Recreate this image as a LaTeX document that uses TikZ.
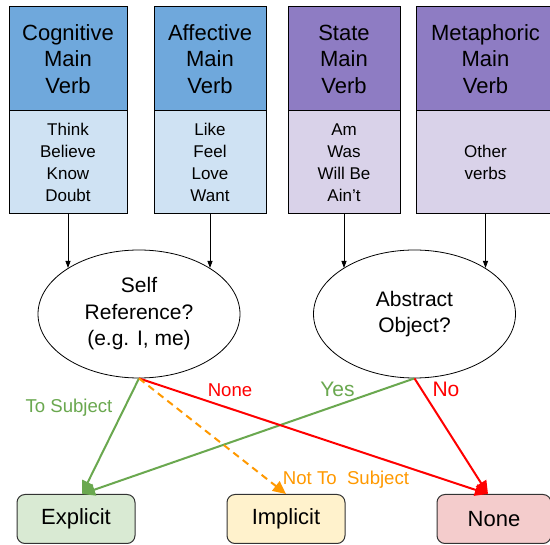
\documentclass[tikz,border=0pt]{standalone}
\usepackage{fontspec}
\setmainfont{Liberation Sans}
\usetikzlibrary{shapes.geometric,arrows.meta,calc}
\definecolor{blueD}{HTML}{6FA8DC}
\definecolor{blueL}{HTML}{CFE2F3}
\definecolor{purpD}{HTML}{8E7CC3}
\definecolor{purpL}{HTML}{D9D2E9}
\definecolor{grnF}{HTML}{D9EAD3}
\definecolor{yelF}{HTML}{FFF2CC}
\definecolor{redF}{HTML}{F4CCCC}
\definecolor{grnL}{HTML}{6AA84F}
\definecolor{orgL}{HTML}{FF9900}
\definecolor{redL}{HTML}{FF0000}
\begin{document}
\begin{tikzpicture}[x=1pt,y=-1pt,
  hdr/.style={draw=black,line width=1pt,rectangle,minimum height=104pt,inner sep=0pt,align=center,font=\fontsize{22}{26.5}\selectfont},
  bdy/.style={draw=black,line width=1pt,rectangle,minimum height=103pt,inner sep=0pt,align=center,font=\fontsize{17}{22}\selectfont},
  quest/.style={draw=black,line width=0.8pt,ellipse,minimum width=202pt,minimum height=128pt,inner sep=0pt,align=center,font=\fontsize{21}{26.5}\selectfont},
  outbox/.style={draw=black!80,line width=1pt,rectangle,rounded corners=8pt,minimum height=49pt,inner sep=0pt,font=\fontsize{22}{26}\selectfont},
  thinarrow/.style={draw=black,line width=0.8pt,-{Triangle[length=7pt,width=5pt]}},
  colarrow/.style={line width=2pt,-{Triangle[length=13pt,width=12pt]}},
  lbl/.style={inner sep=0pt,font=\fontsize{18.6}{22}\selectfont}
]
\useasboundingbox (0,0) rectangle (550,545);
\clip (0,0) rectangle (550,545);
\fill[white] (0,0) rectangle (550,545);

% verb boxes
\node[hdr,fill=blueD,minimum width=118pt] (c1h) at (68,59) {Cognitive\\Main\\Verb};
\node[bdy,fill=blueL,minimum width=118pt] (c1b) at (68,162.5) {Think\\Believe\\Know\\Doubt};
\node[hdr,fill=blueD,minimum width=112pt] (c2h) at (210,59) {Affective\\Main\\Verb};
\node[bdy,fill=blueL,minimum width=112pt] (c2b) at (210,162.5) {Like\\Feel\\Love\\Want};
\node[hdr,fill=purpD,minimum width=112pt] (c3h) at (344,59) {State\\Main\\Verb};
\node[bdy,fill=purpL,minimum width=112pt] (c3b) at (344,162.5) {Am\\Was\\Will Be\\Ain’t};
\node[hdr,fill=purpD,minimum width=138pt] (c4h) at (485.5,59) {Metaphoric\\Main\\Verb};
\node[bdy,fill=purpL,minimum width=138pt] (c4b) at (485.5,162.5) {Other\\verbs};

% questions
\node[quest] (sr) at (139,314) {Self\\Reference?\\(e.g. I, me)};
\node[quest] (ao) at (414.5,314) {Abstract\\Object?};

% outcomes
\node[outbox,fill=grnF,minimum width=118pt] (ex) at (76,519) {Explicit};
\node[outbox,fill=yelF,minimum width=118pt] (im) at (286,519) {Implicit};
\node[outbox,fill=redF,minimum width=114pt] (no) at (494,519) {None};

% box to question arrows
\draw[thinarrow] (c1b.south) -- (c1b.south |- sr.147);
\draw[thinarrow] (c2b.south) -- (c2b.south |- sr.33);
\draw[thinarrow] (c3b.south) -- (c3b.south |- ao.147);
\draw[thinarrow] (c4b.south) -- (c4b.south |- ao.33);

% outcome arrows
\coordinate (exT) at ($(ex.north)+(6,0)$);
\coordinate (noT) at ($(no.north)+(-6,0)$);
\draw[colarrow,grnL] (sr.south) -- (exT);
\draw[colarrow,grnL] (ao.south) -- (exT);
\draw[colarrow,redL] (sr.south) -- (noT);
\draw[colarrow,redL] (ao.south) -- (noT);
\draw[colarrow,orgL,dash pattern=on 7pt off 5pt] (sr.south) -- (im.north);

% labels
\node[lbl,text=grnL] (l1) at (69,408) {To Subject};
\node[lbl,text=redL] (l2) at (230,390) {None};
\node[lbl,text=grnL,font=\fontsize{21}{24}\selectfont] (l3) at (337.5,389) {Yes};
\node[lbl,text=redL,font=\fontsize{21}{24}\selectfont] (l4) at (446,389) {No};
\node[lbl,text=orgL] (l5) at (346,480) {Not To\ \ Subject};
\end{tikzpicture}
\end{document}
